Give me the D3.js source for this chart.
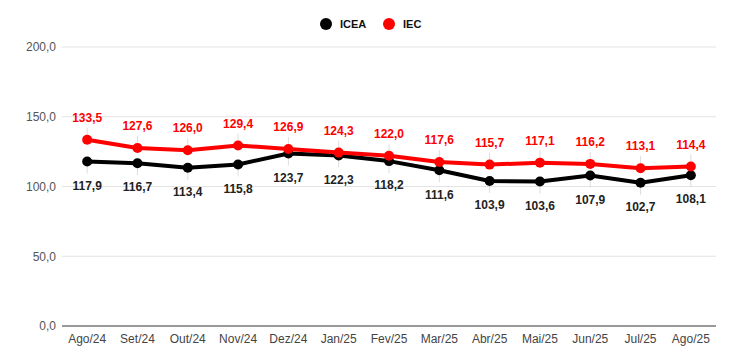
<!DOCTYPE html>
<html>
<head>
<meta charset="utf-8">
<script src="https://cdn.jsdelivr.net/npm/d3@7"></script>
<style>
  body { margin: 0; background: #fff; }
  svg { font-family: "Liberation Sans", Arial, sans-serif; }
</style>
</head>
<body>
<div class="display"></div>
<script>
const months = ['Ago/24', 'Set/24', 'Out/24', 'Nov/24', 'Dez/24', 'Jan/25', 'Fev/25', 'Mar/25', 'Abr/25', 'Mai/25', 'Jun/25', 'Jul/25', 'Ago/25'];
const icea = [117.9, 116.7, 113.4, 115.8, 123.7, 122.3, 118.2, 111.6, 103.9, 103.6, 107.9, 102.7, 108.1];
const iec = [133.5, 127.6, 126.0, 129.4, 126.9, 124.3, 122.0, 117.6, 115.7, 117.1, 116.2, 113.1, 114.4];
const yTicks = [0, 50, 100, 150, 200];

const width = 746;
const height = 353;
const plotLeft = 62, plotRight = 716, plotTop = 47, plotBottom = 326;

const fmt = d => d.toFixed(1).replace('.', ',');

const svg = d3.select('.display')
  .append('svg')
  .attr('width', width)
  .attr('height', height);

const xScale = d3.scaleBand()
  .domain(months)
  .range([plotLeft, plotRight]);
const xc = d => xScale(d) + xScale.bandwidth() / 2;

const yScale = d3.scaleLinear()
  .domain([0, 200])
  .range([plotBottom, plotTop]);

// grid
svg.append('g')
  .selectAll('line')
  .data(yTicks)
  .enter()
  .append('line')
  .attr('x1', plotLeft)
  .attr('x2', plotRight)
  .attr('y1', d => yScale(d))
  .attr('y2', d => yScale(d))
  .attr('stroke', d => d === 0 ? '#333' : '#e3e3e3')
  .attr('stroke-width', 1);

const yAxis = d3.axisLeft(yScale)
  .tickValues(yTicks)
  .tickFormat(fmt)
  .tickSize(0)
  .tickPadding(6);

svg.append('g')
  .attr('transform', `translate(${plotLeft}, 0)`)
  .call(yAxis)
  .call(g => g.select('.domain').remove())
  .selectAll('text')
  .attr('font-size', 12)
  .attr('fill', '#555');

const xAxis = d3.axisBottom(xScale).tickSize(0).tickPadding(8);
svg.append('g')
  .attr('transform', `translate(0, ${plotBottom})`)
  .call(xAxis)
  .call(g => g.select('.domain').remove())
  .selectAll('text')
  .attr('font-size', 12)
  .attr('fill', '#444');

const series = [
  { name: 'ICEA', values: icea, color: '#000000', labelColor: '#222', dy: 24 },
  { name: 'IEC', values: iec, color: '#ff0000', labelColor: '#ff0000', dy: -22 }
];

const line = d3.line()
  .x((_, i) => xc(months[i]))
  .y(d => yScale(d));

series.forEach(s => {
  // leader lines
  svg.append('g')
    .selectAll('line')
    .data(s.values)
    .enter()
    .append('line')
    .attr('x1', (_, i) => xc(months[i]))
    .attr('x2', (_, i) => xc(months[i]))
    .attr('y1', d => yScale(d))
    .attr('y2', d => yScale(d) + (s.dy > 0 ? 12 : -12))
    .attr('stroke', '#ddd')
    .attr('stroke-width', 1);
});

series.forEach(s => {
  svg.append('path')
    .datum(s.values)
    .attr('d', line)
    .attr('fill', 'none')
    .attr('stroke', s.color)
    .attr('stroke-width', 4)
    .attr('stroke-linejoin', 'round');

  svg.append('g')
    .selectAll('circle')
    .data(s.values)
    .enter()
    .append('circle')
    .attr('cx', (_, i) => xc(months[i]))
    .attr('cy', d => yScale(d))
    .attr('r', 5)
    .attr('fill', s.color);
});

series.forEach(s => {
  svg.append('g')
    .selectAll('text')
    .data(s.values)
    .enter()
    .append('text')
    .attr('x', (_, i) => xc(months[i]))
    .attr('y', d => yScale(d) + s.dy)
    .attr('dy', '0.35em')
    .attr('text-anchor', 'middle')
    .attr('font-size', 12)
    .attr('font-weight', 'bold')
    .attr('fill', s.labelColor)
    .text(fmt);
});

// legend
const legendX = [326, 389];
const legend = svg.append('g')
  .selectAll('g')
  .data(series)
  .enter()
  .append('g')
  .attr('transform', (_, i) => `translate(${legendX[i]}, 24)`);

legend.append('circle')
  .attr('r', 6)
  .attr('fill', d => d.color);

legend.append('text')
  .attr('x', 14)
  .attr('dy', '0.35em')
  .attr('font-size', 11)
  .attr('font-weight', 'bold')
  .attr('fill', '#111')
  .text(d => d.name);
</script>
</body>
</html>
